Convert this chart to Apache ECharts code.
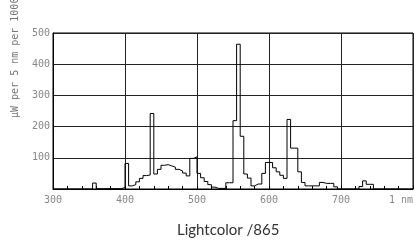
<!DOCTYPE html>
<html>
<head>
<meta charset="utf-8">
<script src="https://cdn.jsdelivr.net/npm/echarts@6/dist/echarts.min.js"></script>
<style>
  html, body { margin: 0; padding: 0; background: #fff; }
  #chart { width: 416px; height: 244px; }
</style>
</head>
<body>
<div id="chart"></div>
<script>
// wavelength bin starts (nm), 5 nm steps
const wavelengths = [
  300, 305, 310, 315, 320, 325, 330, 335, 340, 345,
  350, 355, 360, 365, 370, 375, 380, 385, 390, 395,
  400, 405, 410, 415, 420, 425, 430, 435, 440, 445,
  450, 455, 460, 465, 470, 475, 480, 485, 490, 495,
  500, 505, 510, 515, 520, 525, 530, 535, 540, 545,
  550, 555, 560, 565, 570, 575, 580, 585, 590, 595,
  600, 605, 610, 615, 620, 625, 630, 635, 640, 645,
  650, 655, 660, 665, 670, 675, 680, 685, 690, 695,
  700, 705, 710, 715, 720, 725, 730, 735, 740, 745,
  750, 755, 760, 765, 770, 775, 780, 785, 790, 795,
  800
];
// µW per 5 nm
const power = [
  0, 0, 0, 0, 0, 0, 0, 0, 0, 0,
  0, 19, 1, 1, 1, 1, 1, 1, 1, 5,
  82, 10, 14, 23, 34, 43, 45, 242, 48, 63,
  76, 78, 74, 70, 63, 58, 51, 42, 98, 103,
  50, 36, 24, 14, 6, 2, 2, 2, 20, 20,
  219, 464, 169, 48, 35, 10, 16, 16, 50, 85,
  85, 68, 55, 44, 34, 223, 131, 131, 55, 21,
  10, 10, 10, 10, 21, 18, 18, 18, 7, 0,
  0, 0, 0, 0, 0, 8, 26, 15, 15, 0,
  0, 0, 0, 0, 0, 0, 0, 0, 0, 0,
  0
];
const xTicks = [300, 400, 500, 600, 700, 800];
const yTicks = [100, 200, 300, 400, 500];
const unitLabel = '1 nm';
const yName = 'µW per 5 nm per 1000 lm';
const titleText = 'Lightcolor /865';

const chart = echarts.init(document.getElementById('chart'));

let mono = '"DejaVu Sans Mono", monospace';

chart.setOption({
  animation: false,
  title: {
    text: titleText,
    left: 172,
    top: 218,
    textStyle: { fontFamily: 'Lato', fontSize: 15, fontWeight: 'normal', color: '#333' }
  },
  grid: {
    left: 53, right: 2, top: 33, bottom: 55,
    show: true, borderColor: '#000', borderWidth: 1
  },
  graphic: [{
    type: 'text',
    x: 15, y: 118,
    rotation: Math.PI / 2,
    style: {
      text: yName,
      fill: '#777',
      font: '10px ' + mono,
      textAlign: 'left',
      textVerticalAlign: 'middle'
    }
  }],
  xAxis: {
    type: 'value',
    min: xTicks[0],
    max: xTicks[xTicks.length - 1],
    interval: 100,
    axisLine: { show: true, lineStyle: { color: '#000' } },
    axisTick: { show: true, inside: true, length: 3, lineStyle: { color: '#000' } },
    minorTick: { show: true, splitNumber: 5, length: 3, lineStyle: { color: '#000' } },
    splitLine: { show: true, lineStyle: { color: '#222', width: 1 } },
    axisLabel: {
      fontFamily: mono, fontSize: 10, color: '#888', margin: 6,
      alignMaxLabel: 'right',
      formatter: (v) => (v === 800 ? unitLabel : String(v))
    }
  },
  yAxis: {
    type: 'value',
    min: 0,
    max: yTicks[yTicks.length - 1],
    interval: 100,
    axisLine: { show: true, lineStyle: { color: '#000' } },
    axisTick: { show: false },
    splitLine: { show: true, lineStyle: { color: '#222', width: 1 } },
    axisLabel: {
      fontFamily: mono, fontSize: 10, color: '#888', margin: 3,
      formatter: (v) => (v === 0 ? '' : String(v))
    }
  },
  series: [{
    type: 'line',
    step: 'end',
    symbol: 'none',
    lineStyle: { color: '#000', width: 1 },
    data: wavelengths.map((w, i) => [w, power[i]])
  }]
});
</script>
</body>
</html>
